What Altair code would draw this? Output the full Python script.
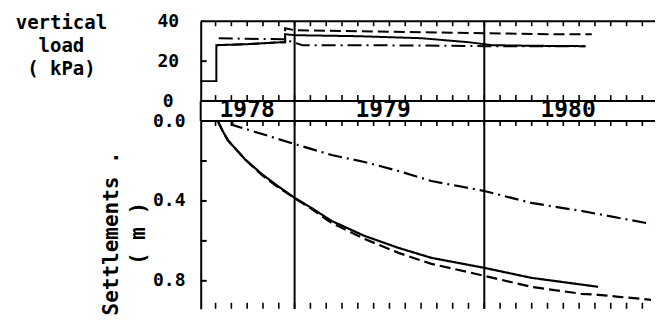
import altair as alt
import pandas as pd

FONT = "DejaVu Sans Mono"
X0, X1 = 6.06, 34.80          # months counted from Jan 1978
W = 455
H_TOP, H_BAND, H_BOT = 80, 20, 188
S_MAX = 0.94

# ---- vertical load (kPa) ----
load_solid_m = [6.06, 7.05, 7.05, 9.0, 11.2, 11.4, 11.4, 12.0, 16.0, 20.0, 23.0, 24.5, 27.0, 30.4]
load_solid_v = [10, 10, 28, 28.5, 29.5, 29.5, 33.5, 33.0, 32.5, 31.5, 29.5, 28.0, 27.7, 27.5]
load_dashed_m = [7.05, 9.0, 11.2, 11.4, 11.4, 12.0, 16.0, 20.0, 24.0, 28.0, 30.8]
load_dashed_v = [28, 28.5, 29.5, 29.5, 36.5, 35.5, 35.0, 34.5, 34.0, 33.5, 33.5]
load_dashdot_m = [7.2, 9.0, 11.3, 12.5, 16.0, 20.0, 24.0, 30.4]
load_dashdot_v = [31.5, 31.2, 31.0, 28.0, 28.0, 27.8, 27.5, 27.5]

# ---- settlements (m) ----
set_solid_m = [7.14, 7.45, 7.77, 8.84, 9.92, 10.93, 12.0, 13.07, 14.34, 16.42, 18.57, 20.65, 24.0, 26.97, 31.2]
set_solid_v = [0.0, 0.05, 0.095, 0.19, 0.265, 0.325, 0.385, 0.435, 0.50, 0.575, 0.635, 0.685, 0.735, 0.785, 0.83]
set_dashed_m = [7.14, 7.45, 7.77, 8.84, 9.92, 10.93, 12.0, 13.07, 14.34, 16.42, 18.57, 20.65, 24.0, 26.97, 30.13, 31.2, 32.5, 34.55]
set_dashed_v = [0.0, 0.05, 0.095, 0.19, 0.27, 0.33, 0.385, 0.44, 0.51, 0.59, 0.66, 0.715, 0.775, 0.83, 0.865, 0.87, 0.88, 0.895]
set_dashdot_m = [8.02, 8.1, 12.0, 14.34, 16.42, 18.57, 20.65, 24.0, 26.97, 30.13, 34.55]
set_dashdot_v = [0.0, 0.02, 0.115, 0.17, 0.205, 0.25, 0.30, 0.35, 0.41, 0.45, 0.515]

# ---- axes / labels ----
year_labels = ["1978", "1979", "1980"]
year_label_pos = [9.0, 17.6, 29.3]
year_bounds = [12, 24]
month_ticks = list(range(7, 35))
load_ticks = [0, 20, 40]
load_inner_ticks = [20]
set_ticks = [0.0, 0.4, 0.8]
set_inner_ticks = [0.2, 0.4, 0.6, 0.8]

SERIES = ["solid", "dashed", "dashdot"]
DASHES = [[1, 0], [11, 5], [14, 5, 2, 5]]


def frame(ms, vs, name):
    return pd.DataFrame({"m": ms, "v": vs, "s": name, "o": range(len(ms))})


load_df = pd.concat([frame(load_solid_m, load_solid_v, "solid"),
                     frame(load_dashed_m, load_dashed_v, "dashed"),
                     frame(load_dashdot_m, load_dashdot_v, "dashdot")])
set_df = pd.concat([frame(set_solid_m, set_solid_v, "solid"),
                    frame(set_dashed_m, set_dashed_v, "dashed"),
                    frame(set_dashdot_m, set_dashdot_v, "dashdot")])

xs = alt.Scale(domain=[X0, X1], nice=False, zero=False)
X = alt.X("m:Q", scale=xs, axis=None)
dash = alt.StrokeDash("s:N", scale=alt.Scale(domain=SERIES, range=DASHES), legend=None)

top_axis = alt.Axis(values=load_ticks, format="d", ticks=False, grid=False,
                    domain=True, domainColor="black", domainWidth=2,
                    labelFont=FONT, labelFontSize=18, labelFontWeight="bold", labelColor="black",
                    labelAlign="center", labelBaseline="middle", labelPadding=33,
                    title=["vertical", "load", "( kPa)"], titleAngle=0,
                    titleAlign="center", titleBaseline="top", titleX=-140, titleY=-8,
                    titleFont=FONT, titleFontSize=19, titleFontWeight="bold",
                    titleColor="black", titleLineHeight=23)
YT = lambda f: alt.Y(f, scale=alt.Scale(domain=[0, 40], nice=False), axis=top_axis)

bot_axis = alt.Axis(values=set_ticks, format=".1f", ticks=False, grid=False,
                    domain=True, domainColor="black", domainWidth=2,
                    labelFont=FONT, labelFontSize=18, labelFontWeight="bold", labelColor="black",
                    labelAlign="center", labelBaseline="middle", labelPadding=32,
                    title=["Settlements .", "( m )"], titleAngle=270,
                    titleAlign="center", titleBaseline="middle", titleX=-89, titleY=112,
                    titleFont=FONT, titleFontSize=21, titleFontWeight="bold",
                    titleColor="black", titleLineHeight=27)
YB = lambda f: alt.Y(f, scale=alt.Scale(domain=[0, S_MAX], nice=False, reverse=True), axis=bot_axis)

ticks_df = pd.DataFrame({"m": month_ticks})
bounds_df = pd.DataFrame({"m": year_bounds})

# top panel
top = alt.layer(
    alt.Chart(load_df).mark_line(color="black", strokeWidth=2).encode(x=X, y=YT("v:Q"), strokeDash=dash, detail="s:N", order="o:Q"),
    alt.Chart(pd.DataFrame({"v": [0, 40]})).mark_rule(color="black", strokeWidth=2).encode(y=YT("v:Q")),
    alt.Chart(bounds_df).mark_rule(color="black", strokeWidth=2).encode(x=X),
    alt.Chart(ticks_df).mark_rule(color="black", strokeWidth=1.6).encode(x=X, y=alt.value(0), y2=alt.value(5)),
    alt.Chart(ticks_df).mark_rule(color="black", strokeWidth=1.6).encode(x=X, y=alt.value(H_TOP), y2=alt.value(H_TOP - 6)),
    alt.Chart(pd.DataFrame({"v": load_inner_ticks})).mark_rule(color="black", strokeWidth=2).encode(y=YT("v:Q"), x=alt.value(0), x2=alt.value(6)),
).properties(width=W, height=H_TOP)

# year band
band = alt.layer(
    alt.Chart(pd.DataFrame({"m": year_label_pos, "t": year_labels})).mark_text(
        font=FONT, fontSize=23, fontWeight="bold", color="black", align="center", baseline="alphabetic").encode(
        x=X, y=alt.value(16), text="t:N"),
    alt.Chart(bounds_df).mark_rule(color="black", strokeWidth=2).encode(x=X),
    alt.Chart(pd.DataFrame({"m": [X0]})).mark_rule(color="black", strokeWidth=2).encode(x=X),
).properties(width=W, height=H_BAND)

# settlements panel
bot = alt.layer(
    alt.Chart(set_df).mark_line(color="black", strokeWidth=2.2).encode(x=X, y=YB("v:Q"), strokeDash=dash, detail="s:N", order="o:Q"),
    alt.Chart(pd.DataFrame({"v": [0.0]})).mark_rule(color="black", strokeWidth=2).encode(y=YB("v:Q")),
    alt.Chart(bounds_df).mark_rule(color="black", strokeWidth=2).encode(x=X),
    alt.Chart(ticks_df).mark_rule(color="black", strokeWidth=1.6).encode(x=X, y=alt.value(0), y2=alt.value(5)),
    alt.Chart(ticks_df).mark_rule(color="black", strokeWidth=1.6).encode(x=X, y=alt.value(H_BOT), y2=alt.value(H_BOT - 6)),
    alt.Chart(pd.DataFrame({"v": set_inner_ticks})).mark_rule(color="black", strokeWidth=2).encode(y=YB("v:Q"), x=alt.value(0), x2=alt.value(6)),
).properties(width=W, height=H_BOT)

chart = alt.vconcat(top, band, bot, spacing=0, bounds="flush").properties(
    padding={"left": 7, "top": 4, "right": 0, "bottom": 0},
    background="white",
).configure_view(stroke=None)

chart.save("out.html", embed_options={"renderer": "svg", "actions": False})
